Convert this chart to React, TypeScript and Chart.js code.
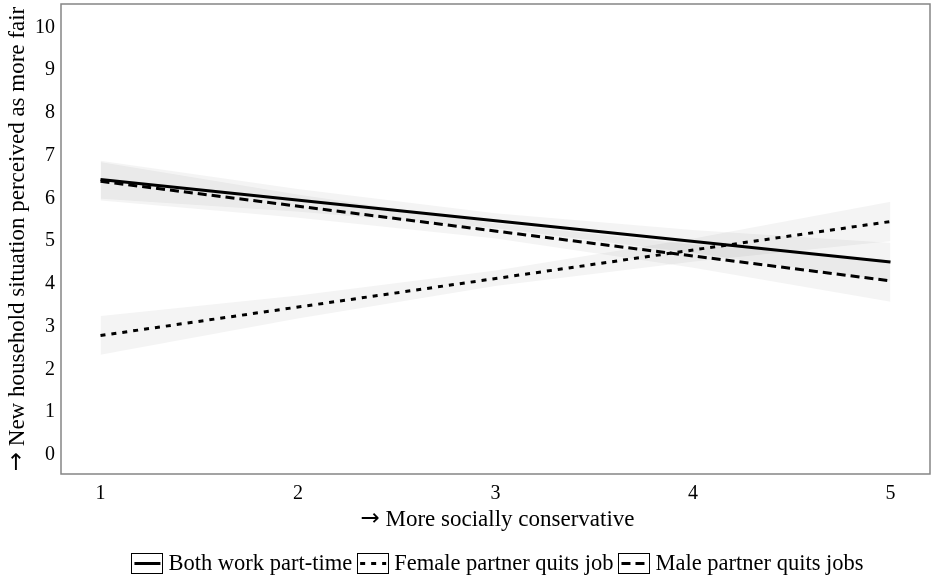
import React, { useEffect, useRef } from "react";
import { Chart, registerables } from "chart.js";

Chart.register(...registerables);

const FONT = "'Liberation Serif', 'Times New Roman', serif";
const ARROW_FONT = "'DejaVu Sans', sans-serif";

// ---- data ----
const xTicks = [1, 2, 3, 4, 5];
const yTicks = [0, 1, 2, 3, 4, 5, 6, 7, 8, 9, 10];
const seriesNames = ["Both work part-time", "Female partner quits job", "Male partner quits jobs"];
const xTitle = "More socially conservative";
const yTitle = "New household situation perceived as more fair";

const lineX = [1, 5];
const bothLine = [6.44, 4.51];
const femaleLine = [2.79, 5.46];
const maleLine = [6.4, 4.07];

const bandX = [1, 2, 3, 4, 5];
const bothUpper = [6.88, 6.22, 5.65, 5.26, 4.96];
const bothLower = [5.99, 5.69, 5.3, 4.72, 4.06];
const femaleUpper = [3.25, 3.73, 4.31, 5.06, 5.92];
const femaleLower = [2.34, 3.19, 3.95, 4.52, 5.0];
const maleUpper = [6.85, 6.09, 5.42, 4.92, 4.56];
const maleLower = [5.95, 5.55, 5.06, 4.38, 3.58];

// ---- styles ----
const dashPatterns: number[][] = [[], [5, 6], [9, 5]];
const bandFill = "rgba(0,0,0,0.045)";

const pts = (xs: number[], ys: number[]) => xs.map((x, i) => ({ x, y: ys[i] }));

const lineDs = (label: string, ys: number[], dash: number[]) => ({
  label,
  data: pts(lineX, ys),
  borderColor: "#000",
  borderWidth: 3,
  borderDash: dash,
  pointRadius: 0,
  fill: false,
  tension: 0,
});

const bandDs = (ys: number[], upper: boolean) => ({
  label: "band",
  data: pts(bandX, ys),
  borderWidth: 0,
  borderColor: "rgba(0,0,0,0)",
  backgroundColor: bandFill,
  pointRadius: 0,
  fill: upper ? "+1" : false,
  tension: 0,
});

function drawArrowTitle(ctx: any, text: string, cx: number, cy: number, rotate: boolean) {
  ctx.save();
  ctx.translate(cx, cy);
  if (rotate) ctx.rotate(-Math.PI / 2);
  ctx.fillStyle = "#000";
  ctx.textBaseline = "middle";
  ctx.textAlign = "left";
  ctx.font = `23px ${ARROW_FONT}`;
  const aw = ctx.measureText("→").width;
  ctx.font = `23px ${FONT}`;
  const sw = ctx.measureText(" ").width;
  const tw = ctx.measureText(text).width;
  const total = aw + sw + tw;
  let x = -total / 2;
  ctx.font = `23px ${ARROW_FONT}`;
  ctx.fillText("→", x, 0);
  x += aw + sw;
  ctx.font = `23px ${FONT}`;
  ctx.fillText(text, x, 1);
  ctx.restore();
}

const framePlugin = {
  id: "frameLegend",
  afterDraw(chart: any) {
    const { ctx, chartArea } = chart;
    const { left, top, right, bottom } = chartArea;
    ctx.save();
    ctx.strokeStyle = "#858585";
    ctx.lineWidth = 1.5;
    ctx.setLineDash([]);
    ctx.strokeRect(left, top, right - left, bottom - top);

    // axis titles
    drawArrowTitle(ctx, xTitle, (left + right) / 2 + 2, 519, false);
    drawArrowTitle(ctx, yTitle, 17, (top + bottom) / 2, true);

    // legend
    ctx.font = `22.5px ${FONT}`;
    const boxW = 31;
    const boxH = 20;
    const gapIn = 6;
    const gapOut = 5;
    const widths = seriesNames.map((n) => ctx.measureText(n).width);
    const total =
      widths.reduce((a: number, w: number) => a + boxW + gapIn + w, 0) + gapOut * (seriesNames.length - 1);
    let x = (left + right) / 2 + 2 - total / 2;
    const cy = 563;
    seriesNames.forEach((name, i) => {
      ctx.setLineDash([]);
      ctx.strokeStyle = "#000";
      ctx.lineWidth = 1;
      ctx.strokeRect(Math.round(x) + 0.5, cy - boxH / 2 + 0.5, boxW, boxH);
      ctx.lineWidth = 3;
      ctx.setLineDash(dashPatterns[i]);
      ctx.beginPath();
      ctx.moveTo(x + 3, cy + 0.5);
      ctx.lineTo(x + boxW - 2, cy + 0.5);
      ctx.stroke();
      ctx.setLineDash([]);
      ctx.fillStyle = "#000";
      ctx.textBaseline = "middle";
      ctx.textAlign = "left";
      ctx.fillText(name, x + boxW + gapIn, cy + 1);
      x += boxW + gapIn + widths[i] + gapOut;
    });
    ctx.restore();
  },
};

export default function App() {
  const ref = useRef<HTMLCanvasElement | null>(null);

  useEffect(() => {
    document.body.style.margin = "0";
    const canvas = ref.current;
    if (!canvas) return;
    const chart = new Chart(canvas, {
      type: "line",
      data: {
        datasets: [
          lineDs(seriesNames[0], bothLine, dashPatterns[0]),
          lineDs(seriesNames[1], femaleLine, dashPatterns[1]),
          lineDs(seriesNames[2], maleLine, dashPatterns[2]),
          bandDs(bothUpper, true),
          bandDs(bothLower, false),
          bandDs(femaleUpper, true),
          bandDs(femaleLower, false),
          bandDs(maleUpper, true),
          bandDs(maleLower, false),
        ] as any,
      },
      options: {
        animation: false,
        responsive: false,
        layout: { padding: { top: 4, right: 5, left: 0, bottom: 0 } },
        plugins: {
          legend: { display: false },
          tooltip: { enabled: false },
        },
        scales: {
          x: {
            type: "linear",
            min: 0.8,
            max: 5.2,
            afterBuildTicks: (scale: any) => {
              scale.ticks = xTicks.map((v) => ({ value: v }));
            },
            afterFit: (scale: any) => {
              scale.height = 106;
              scale.paddingLeft = 0;
              scale.paddingRight = 0;
            },
            grid: { display: false, drawTicks: false },
            border: { display: false },
            ticks: {
              color: "#000",
              padding: 8,
              font: { family: FONT, size: 20 },
              callback: (v: any) => String(v),
            },
            title: { display: false },
          },
          y: {
            type: "linear",
            min: -0.45,
            max: 10.55,
            afterBuildTicks: (scale: any) => {
              scale.ticks = yTicks.map((v) => ({ value: v }));
            },
            afterFit: (scale: any) => {
              scale.width = 61;
              scale.paddingTop = 0;
              scale.paddingBottom = 0;
            },
            grid: { display: false, drawTicks: false },
            border: { display: false },
            ticks: {
              color: "#000",
              padding: 6,
              font: { family: FONT, size: 20 },
              callback: (v: any) => String(v),
            },
            title: { display: false },
          },
        },
      } as any,
      plugins: [framePlugin],
    });
    return () => chart.destroy();
  }, []);

  return <canvas ref={ref} width={935} height={580} style={{ display: "block" }} />;
}
